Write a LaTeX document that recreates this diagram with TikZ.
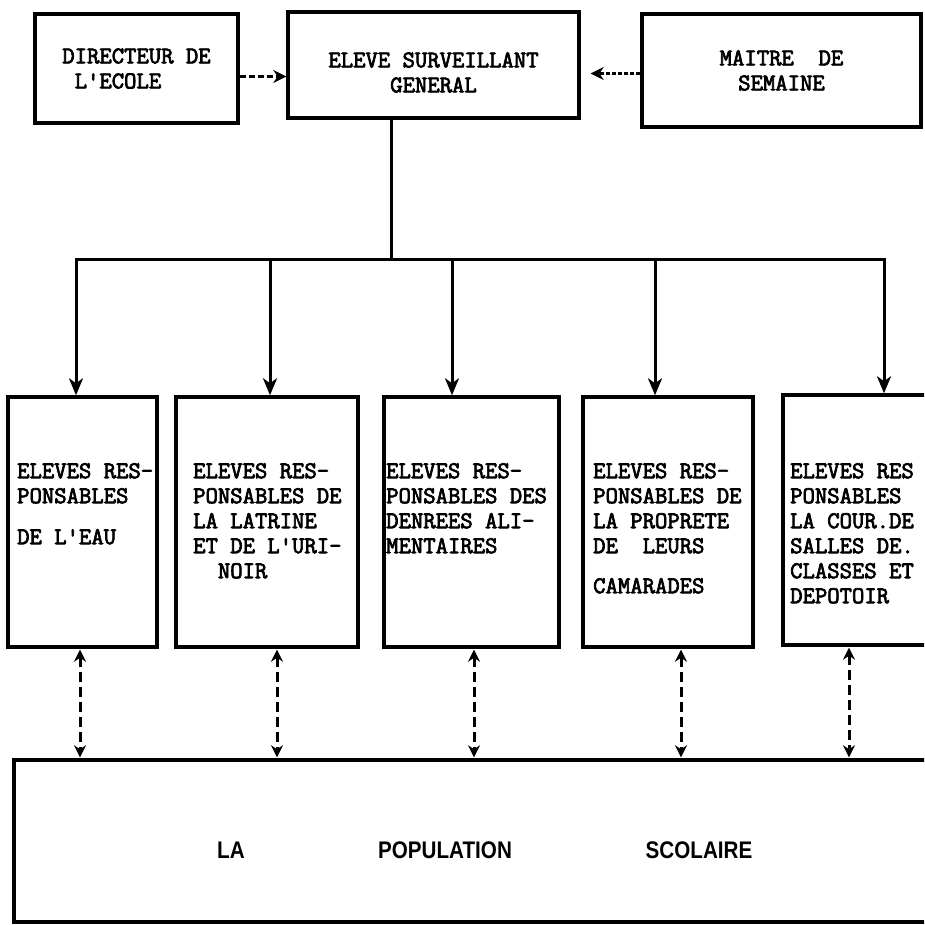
\documentclass[tikz,border=0pt]{standalone}
\usepackage{fontspec}
\usetikzlibrary{arrows.meta,calc}
\newfontfamily\typew[FakeBold=3]{Latin Modern Mono}
\newfontfamily\popfont[FakeStretch=0.86]{Liberation Sans}

\begin{document}
\begin{tikzpicture}[x=1pt,y=-1pt,
  every node/.style={font=\typew\fontsize{24}{25}\selectfont},
  topbox/.style={draw,line width=3.4pt,inner sep=0pt},
  respbox/.style={draw,line width=3.4pt,minimum height=250pt,inner sep=0pt},
  resptext/.style={anchor=north west,align=left,inner sep=0pt},
  poptext/.style={font=\popfont\bfseries\fontsize{24}{26}\selectfont},
  downarrow/.style={line width=3pt,-{Stealth[length=17pt,width=14pt,inset=5pt]}},
  dasharrow/.style={line width=3.2pt,dash pattern=on 6pt off 3pt,-{Stealth[length=13pt,width=13pt]}},
  twoway/.style={line width=3pt,dash pattern=on 10pt off 5pt,
    {Stealth[length=12pt,width=12pt]}-{Stealth[length=12pt,width=12pt]}}]
\useasboundingbox (0,0) rectangle (924,925);
\clip (0,0) rectangle (924,925);
\fill[white] (0,0) rectangle (924,925);

% top row
\node[topbox,align=left,minimum width=203pt,minimum height=109pt] (dir) at (136.5,68.5)
  {DIRECTEUR DE\\~L'ECOLE};
\node[topbox,align=center,minimum width=291pt,minimum height=106pt] (sup) at (433.5,65)
  {\rule{0pt}{30pt}ELEVE SURVEILLANT\\GENERAL};
\node[topbox,align=center,minimum width=279pt,minimum height=113pt] (mai) at (781.5,70.5)
  {MAITRE~~DE\\SEMAINE};
\coordinate (da) at ([yshift=-8pt]dir.east);
\draw[dasharrow] (da) -- (da -| sup.west);
\coordinate (ma) at ([yshift=-3pt]mai.west);
\draw[dasharrow,line width=2.4pt,dash pattern=on 4pt off 2pt,shorten >=10pt] (ma) -- (ma -| sup.east);

% responsables
\node[respbox,minimum width=149pt] (b1) at (82.5,522) {};
\node[respbox,minimum width=182pt] (b2) at (267,522) {};
\node[respbox,minimum width=175pt] (b3) at (471.5,522) {};
\node[respbox,minimum width=170pt] (b4) at (668,522) {};
\node[respbox,minimum width=190pt] (b5) at (878,520) {};

\node[resptext] (r1) at (17,463) {ELEVES RES-\\PONSABLES\\[16pt]DE L'EAU};
\node[resptext] (r2) at (193,463) {ELEVES RES-\\PONSABLES DE\\LA LATRINE\\ET DE L'URI-\\~~NOIR};
\node[resptext] (r3) at (386,463) {ELEVES RES-\\PONSABLES DES\\DENREES ALI-\\MENTAIRES};
\node[resptext] (r4) at (593,463) {ELEVES RES-\\PONSABLES DE\\LA PROPRETE\\DE~~LEURS\\[15pt]CAMARADES};
\node[resptext] (r5) at (790,463) {ELEVES RES\\PONSABLES\\LA COUR.DE\\SALLES DE.\\CLASSES ET\\DEPOTOIR};

% tree
\coordinate (hub) at (391,259);
\draw[line width=3pt] (hub |- sup.south) -- (hub);
\foreach \n/\x in {1/76,2/270,3/452,4/655,5/884}
  \coordinate (t\n) at (\x,259);
\draw[line width=3pt,line cap=rect] (t1) -- (t5);
\foreach \n in {1,...,5}
  \draw[downarrow] (t\n) -- (t\n |- b\n.north);

% population
\node[draw,line width=3.4pt,minimum width=956pt,minimum height=162pt] (pop) at (492,841) {};
\node[poptext] (la) at (231,850) {LA};
\node[poptext] (popu) at (445,850) {POPULATION};
\node[poptext] (sco) at (699,850) {SCOLAIRE};

\foreach \n/\x in {1/80,2/277,3/474,4/681,5/849}{
  \coordinate (d\n) at (\x,648);
  \draw[twoway,shorten <=1pt,shorten >=1pt] (d\n |- b\n.south) -- (d\n |- pop.north);
}
\end{tikzpicture}
\end{document}
